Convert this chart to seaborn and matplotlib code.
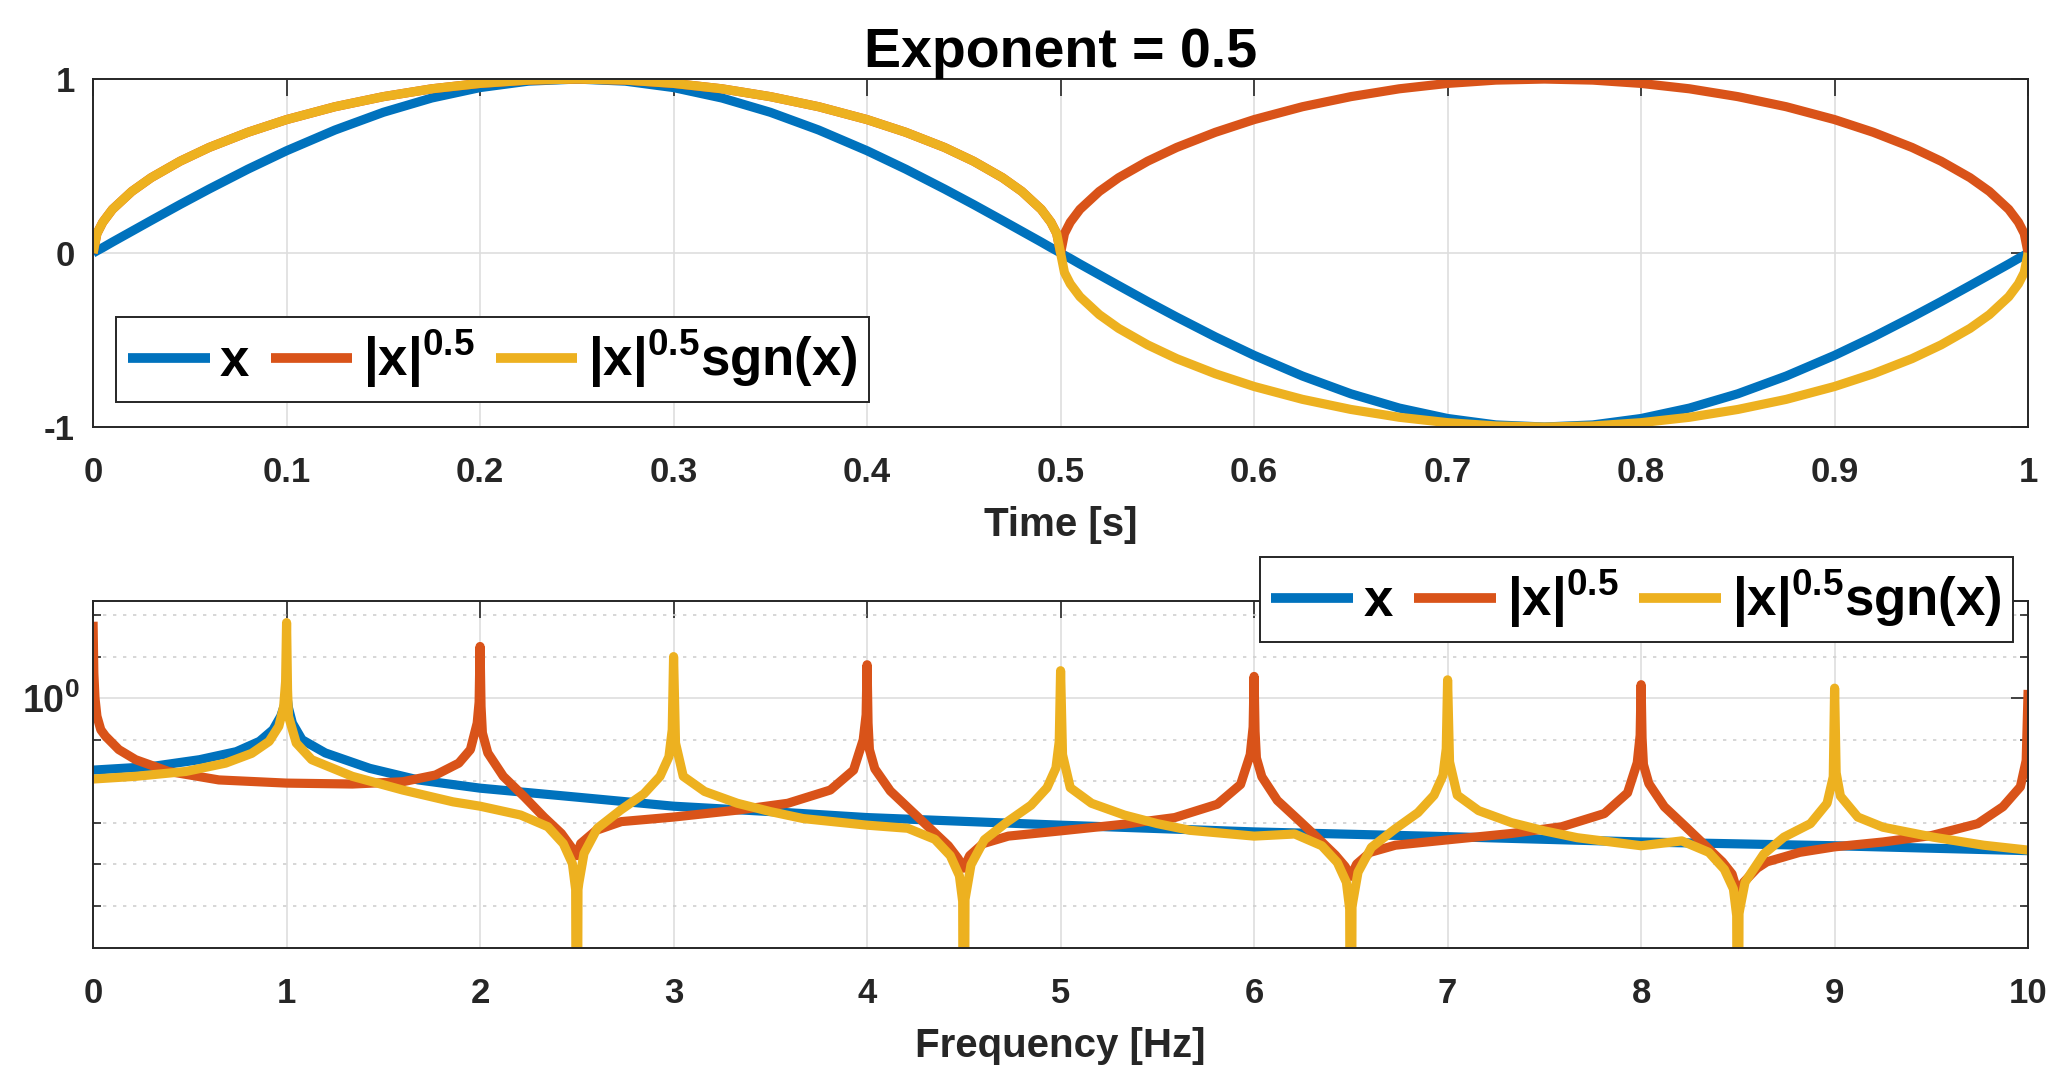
# plot.py
# Sinal x = sin(2*pi*t), |x|^0.5 e |x|^0.5*sgn(x) no tempo, e os espectros em escala log

import numpy as np
import pandas as pd
import matplotlib
matplotlib.use("Agg")
import matplotlib.pyplot as plt
from matplotlib.ticker import NullFormatter
import seaborn as sns

# ------------------------------
# 1. Dados
# ------------------------------
# painel de cima: tempo [s]
t_time = [0, 0.002, 0.005, 0.01, 0.02, 0.03, 0.045, 0.06, 0.08, 0.1,
          0.125, 0.15, 0.175, 0.2, 0.225, 0.25, 0.275, 0.3, 0.325, 0.35,
          0.375, 0.4, 0.42, 0.44, 0.455, 0.47, 0.48, 0.49, 0.495, 0.498, 0.5,
          0.502, 0.505, 0.51, 0.52, 0.53, 0.545, 0.56, 0.58, 0.6,
          0.625, 0.65, 0.675, 0.7, 0.725, 0.75, 0.775, 0.8, 0.825, 0.85,
          0.875, 0.9, 0.92, 0.94, 0.955, 0.97, 0.98, 0.99, 0.995, 0.998, 1.0]

x_sig = [0, 0.013, 0.031, 0.063, 0.125, 0.187, 0.279, 0.368, 0.482, 0.588,
         0.707, 0.809, 0.891, 0.951, 0.988, 1.0, 0.988, 0.951, 0.891, 0.809,
         0.707, 0.588, 0.482, 0.368, 0.279, 0.187, 0.125, 0.063, 0.031, 0.013, 0.0,
         -0.013, -0.031, -0.063, -0.125, -0.187, -0.279, -0.368, -0.482, -0.588,
         -0.707, -0.809, -0.891, -0.951, -0.988, -1.0, -0.988, -0.951, -0.891, -0.809,
         -0.707, -0.588, -0.482, -0.368, -0.279, -0.187, -0.125, -0.063, -0.031, -0.013, 0.0]

abs_root = [0, 0.112, 0.177, 0.251, 0.354, 0.433, 0.528, 0.607, 0.694, 0.767,
            0.841, 0.899, 0.944, 0.975, 0.994, 1.0, 0.994, 0.975, 0.944, 0.899,
            0.841, 0.767, 0.694, 0.607, 0.528, 0.433, 0.354, 0.251, 0.177, 0.112, 0.0,
            0.112, 0.177, 0.251, 0.354, 0.433, 0.528, 0.607, 0.694, 0.767,
            0.841, 0.899, 0.944, 0.975, 0.994, 1.0, 0.994, 0.975, 0.944, 0.899,
            0.841, 0.767, 0.694, 0.607, 0.528, 0.433, 0.354, 0.251, 0.177, 0.112, 0.0]

signed_root = [0, 0.112, 0.177, 0.251, 0.354, 0.433, 0.528, 0.607, 0.694, 0.767,
               0.841, 0.899, 0.944, 0.975, 0.994, 1.0, 0.994, 0.975, 0.944, 0.899,
               0.841, 0.767, 0.694, 0.607, 0.528, 0.433, 0.354, 0.251, 0.177, 0.112, 0.0,
               -0.112, -0.177, -0.251, -0.354, -0.433, -0.528, -0.607, -0.694, -0.767,
               -0.841, -0.899, -0.944, -0.975, -0.994, -1.0, -0.994, -0.975, -0.944, -0.899,
               -0.841, -0.767, -0.694, -0.607, -0.528, -0.433, -0.354, -0.251, -0.177, -0.112, 0.0]

# painel de baixo: espectro de x
f_x = [0, 0.3, 0.55, 0.74, 0.86, 0.93, 0.97, 0.99, 1.0, 1.01, 1.03, 1.08,
       1.2, 1.43, 1.68, 2.0, 2.47, 3.0, 3.5, 4.0, 5.0, 6.0, 7.0, 8.0, 9.0, 10.0]
spec_x = [0.819, 0.827, 0.843, 0.862, 0.887, 0.916, 0.951, 0.982, 1.012, 0.973, 0.933, 0.891,
          0.859, 0.823, 0.797, 0.779, 0.761, 0.741, 0.730, 0.718, 0.703, 0.690, 0.681, 0.671,
          0.664, 0.655]

# espectro de |x|^0.5
f_abs = [0.0, 0.004, 0.01, 0.02, 0.04, 0.064, 0.133, 0.22, 0.39, 0.65, 1.0, 1.34, 1.6,
         1.77, 1.89, 1.95, 1.985, 1.995, 2.0, 2.005, 2.012, 2.04, 2.12, 2.23, 2.33, 2.42,
         2.47, 2.5, 2.52, 2.6, 2.73, 3.0, 3.33, 3.59, 3.81, 3.93, 3.98, 3.995, 4.0,
         4.005, 4.012, 4.04, 4.12, 4.23, 4.33, 4.42, 4.47, 4.5, 4.53, 4.6, 4.73, 5.0,
         5.33, 5.59, 5.81, 5.93, 5.98, 5.995, 6.0,
         6.005, 6.012, 6.04, 6.12, 6.23, 6.33, 6.42, 6.47, 6.5, 6.53, 6.6, 6.73, 7.0,
         7.33, 7.59, 7.81, 7.93, 7.98, 7.995, 8.0,
         8.005, 8.012, 8.04, 8.12, 8.23, 8.33, 8.42, 8.47, 8.5, 8.53, 8.6, 8.65, 8.82,
         9.0, 9.25, 9.5, 9.74, 9.87, 9.96, 9.99, 10.0]
spec_abs = [1.236, 1.072, 1.0, 0.951, 0.916, 0.900, 0.867, 0.843, 0.816, 0.797, 0.790, 0.788, 0.793,
            0.808, 0.835, 0.867, 0.933, 0.989, 1.154, 0.977, 0.908, 0.859, 0.805, 0.760, 0.719, 0.687,
            0.662, 0.646, 0.668, 0.693, 0.710, 0.719, 0.733, 0.747, 0.775, 0.819, 0.891, 0.955, 1.097,
            0.933, 0.867, 0.822, 0.773, 0.731, 0.695, 0.664, 0.641, 0.624, 0.646, 0.668, 0.682, 0.692,
            0.705, 0.718, 0.745, 0.787, 0.855, 0.923, 1.062,
            0.912, 0.847, 0.804, 0.753, 0.713, 0.678, 0.647, 0.627, 0.610, 0.631, 0.652, 0.665, 0.675,
            0.687, 0.700, 0.726, 0.769, 0.836, 0.902, 1.038,
            0.895, 0.832, 0.789, 0.740, 0.700, 0.665, 0.635, 0.614, 0.582, 0.600, 0.624, 0.635, 0.652,
            0.662, 0.671, 0.683, 0.706, 0.740, 0.782, 0.841, 1.023]

# espectro de |x|^0.5*sgn(x)
f_sgn = [0, 0.22, 0.48, 0.685, 0.82, 0.91, 0.96, 0.985, 0.995, 1.0, 1.005, 1.01, 1.05,
         1.13, 1.34, 1.6, 1.86, 2.0, 2.21, 2.35, 2.43, 2.477, 2.494, 2.5, 2.506, 2.51,
         2.537, 2.606, 2.726, 2.847, 2.93, 2.976, 2.993, 3.0, 3.01, 3.05, 3.16, 3.33,
         3.5, 3.67, 4.0,
         4.21, 4.35, 4.43, 4.477, 4.494, 4.5, 4.506, 4.51, 4.537, 4.606, 4.726, 4.847,
         4.93, 4.976, 4.993, 5.0, 5.01, 5.05, 5.16, 5.33, 5.5, 5.67, 6.0,
         6.21, 6.35, 6.43, 6.477, 6.494, 6.5, 6.506, 6.51, 6.537, 6.606, 6.726, 6.847,
         6.93, 6.976, 6.993, 7.0, 7.01, 7.05, 7.16, 7.33, 7.5, 7.67, 8.0,
         8.21, 8.35, 8.43, 8.477, 8.494, 8.5, 8.506, 8.51, 8.537, 8.565, 8.634, 8.738,
         8.875, 8.961, 8.993, 9.0, 9.008, 9.03, 9.12, 9.25, 9.51, 9.77, 10.0]
spec_sgn = [0.799, 0.805, 0.816, 0.835, 0.858, 0.887, 0.925, 0.977, 1.047, 1.233, 1.023, 0.951, 0.883,
            0.843, 0.805, 0.775, 0.750, 0.741, 0.723, 0.700, 0.668, 0.632, 0.588, 0.2, 0.588, 0.598,
            0.650, 0.697, 0.733, 0.767, 0.805, 0.850, 0.916, 1.122, 0.883, 0.805, 0.772, 0.747,
            0.730, 0.716, 0.703,
            0.697, 0.676, 0.646, 0.611, 0.569, 0.2, 0.572, 0.579, 0.630, 0.675, 0.710, 0.743,
            0.780, 0.824, 0.887, 1.079, 0.855, 0.780, 0.747, 0.723, 0.706, 0.693, 0.682,
            0.686, 0.664, 0.634, 0.600, 0.557, 0.2, 0.560, 0.568, 0.617, 0.661, 0.695, 0.728,
            0.764, 0.807, 0.869, 1.052, 0.838, 0.764, 0.732, 0.708, 0.692, 0.679, 0.664,
            0.673, 0.652, 0.622, 0.589, 0.547, 0.2, 0.550, 0.557, 0.600, 0.614, 0.649, 0.680,
            0.706, 0.747, 0.804, 1.028, 0.813, 0.762, 0.719, 0.699, 0.680, 0.665, 0.656]

labels = ["x", r"$|x|^{0.5}$", r"$|x|^{0.5}$sgn(x)"]
xticks_time = [0, 0.1, 0.2, 0.3, 0.4, 0.5, 0.6, 0.7, 0.8, 0.9, 1]
xlabels_time = ["0", "0.1", "0.2", "0.3", "0.4", "0.5", "0.6", "0.7", "0.8", "0.9", "1"]
xticks_freq = [0, 1, 2, 3, 4, 5, 6, 7, 8, 9, 10]
yminor_freq = [0.5623, 0.6310, 0.7079, 0.7943, 0.8913, 1.1220, 1.2589]

# ------------------------------
# 2. Estilo (parecido com o MATLAB)
# ------------------------------
sns.set_style("white")
plt.rcParams['font.family'] = ['Liberation Sans', 'DejaVu Sans']
plt.rcParams['font.weight'] = 'bold'
plt.rcParams['axes.unicode_minus'] = False
plt.rcParams['mathtext.fontset'] = 'custom'
plt.rcParams['mathtext.rm'] = 'Liberation Sans:bold'
plt.rcParams['mathtext.it'] = 'Liberation Sans:bold'
plt.rcParams['mathtext.bf'] = 'Liberation Sans:bold'

cores = ['#0072BD', '#D95319', '#EDB120']
escuro = '#262626'
lw = 6.6      # curvas
lw_leg = 7.0  # amostras da legenda

fig = plt.figure(figsize=(20.59, 10.67), dpi=100)
ax1 = fig.add_axes([0.0452, 0.5998, 0.9398, 0.3261])
ax2 = fig.add_axes([0.0452, 0.1115, 0.9398, 0.3252])

# ------------------------------
# 3. Painel do tempo
# ------------------------------
df_t = pd.DataFrame({'t': t_time, 'x': x_sig, 'abs': abs_root, 'sgn': signed_root})
for col, cor, lab in zip(['x', 'abs', 'sgn'], cores, labels):
    sns.lineplot(data=df_t, x='t', y=col, ax=ax1, color=cor, linewidth=lw, label=lab,
                 sort=False, estimator=None)

ax1.set_xlim(0, 1)
ax1.set_ylim(-1, 1)
ax1.set_xticks(xticks_time)
ax1.set_xticklabels(xlabels_time)
ax1.set_yticks([-1, 0, 1])
ax1.set_yticklabels(["-1", "0", "1"])
ax1.set_xlabel("Time [s]", fontsize=29, fontweight='bold', labelpad=12, color=escuro)
ax1.set_ylabel("")
ax1.set_title("Exponent = 0.5", fontsize=40, fontweight='bold', pad=9, color='black')
ax1.grid(True, color='#dedede', lw=1.2)

# ------------------------------
# 4. Painel da frequência (log)
# ------------------------------
series = [(f_x, spec_x), (f_abs, spec_abs), (f_sgn, spec_sgn)]
for (ff, vv), cor, lab in zip(series, cores, labels):
    sns.lineplot(x=ff, y=vv, ax=ax2, color=cor, linewidth=lw, label=lab,
                 sort=False, estimator=None)

ax2.set_yscale('log')
ax2.set_xlim(0, 10)
ax2.set_ylim(0.5, 1.309)
ax2.set_xticks(xticks_freq)
ax2.set_xticklabels([str(v) for v in xticks_freq])
ax2.set_yticks([1.0])
ax2.set_yticklabels([r"$10^{0}$"])
ax2.set_yticks(yminor_freq, minor=True)
ax2.yaxis.set_minor_formatter(NullFormatter())
ax2.set_xlabel("Frequency [Hz]", fontsize=29, fontweight='bold', labelpad=12, color=escuro)
ax2.set_ylabel("")
ax2.grid(True, which='major', color='#dedede', lw=1.2)
ax2.grid(True, which='minor', axis='y', color='#cfcfcf', lw=1.2, ls=(0, (2, 4)))

# ------------------------------
# 5. Eixos, ticks e legendas
# ------------------------------
for ax in (ax1, ax2):
    ax.set_axisbelow(True)
    for ln in ax.get_lines():
        ln.set_linewidth(lw)
        ln.set_solid_joinstyle('round')
        ln.set_solid_capstyle('butt')
    for sp in ax.spines.values():
        sp.set_color(escuro)
        sp.set_linewidth(1.4)
    ax.tick_params(which='major', direction='in', length=12, width=1.2, top=True, right=True,
                   labelsize=25, colors=escuro)
    ax.tick_params(axis='x', pad=21)
    ax.tick_params(axis='y', pad=13)
    for lbl in ax.get_xticklabels() + ax.get_yticklabels():
        lbl.set_fontweight('bold')

ax2.tick_params(which='minor', axis='y', direction='in', length=6, width=1.2, left=True, right=True,
                colors=escuro)
ax2.tick_params(axis='y', pad=10)
for lbl in ax2.get_yticklabels():
    lbl.set_fontsize(27)

leg_kw = dict(ncol=3, borderaxespad=0, prop={'weight': 'bold', 'size': 38},
              handlelength=1.55, handletextpad=0.2, columnspacing=0.4, frameon=True,
              fancybox=False, edgecolor=escuro, framealpha=1, borderpad=0.22)
leg1 = ax1.legend(loc='lower left', bbox_to_anchor=(0.0119, 0.0718), **leg_kw)
leg2 = ax2.legend(loc='lower right', bbox_to_anchor=(0.9922, 0.8818), **leg_kw)
for leg in (leg1, leg2):
    leg.get_frame().set_linewidth(1.4)
    for txt in leg.get_texts():
        txt.set_color('black')
    for h in leg.get_lines():
        h.set_linewidth(lw_leg)

fig.savefig("out.png", dpi=100)
